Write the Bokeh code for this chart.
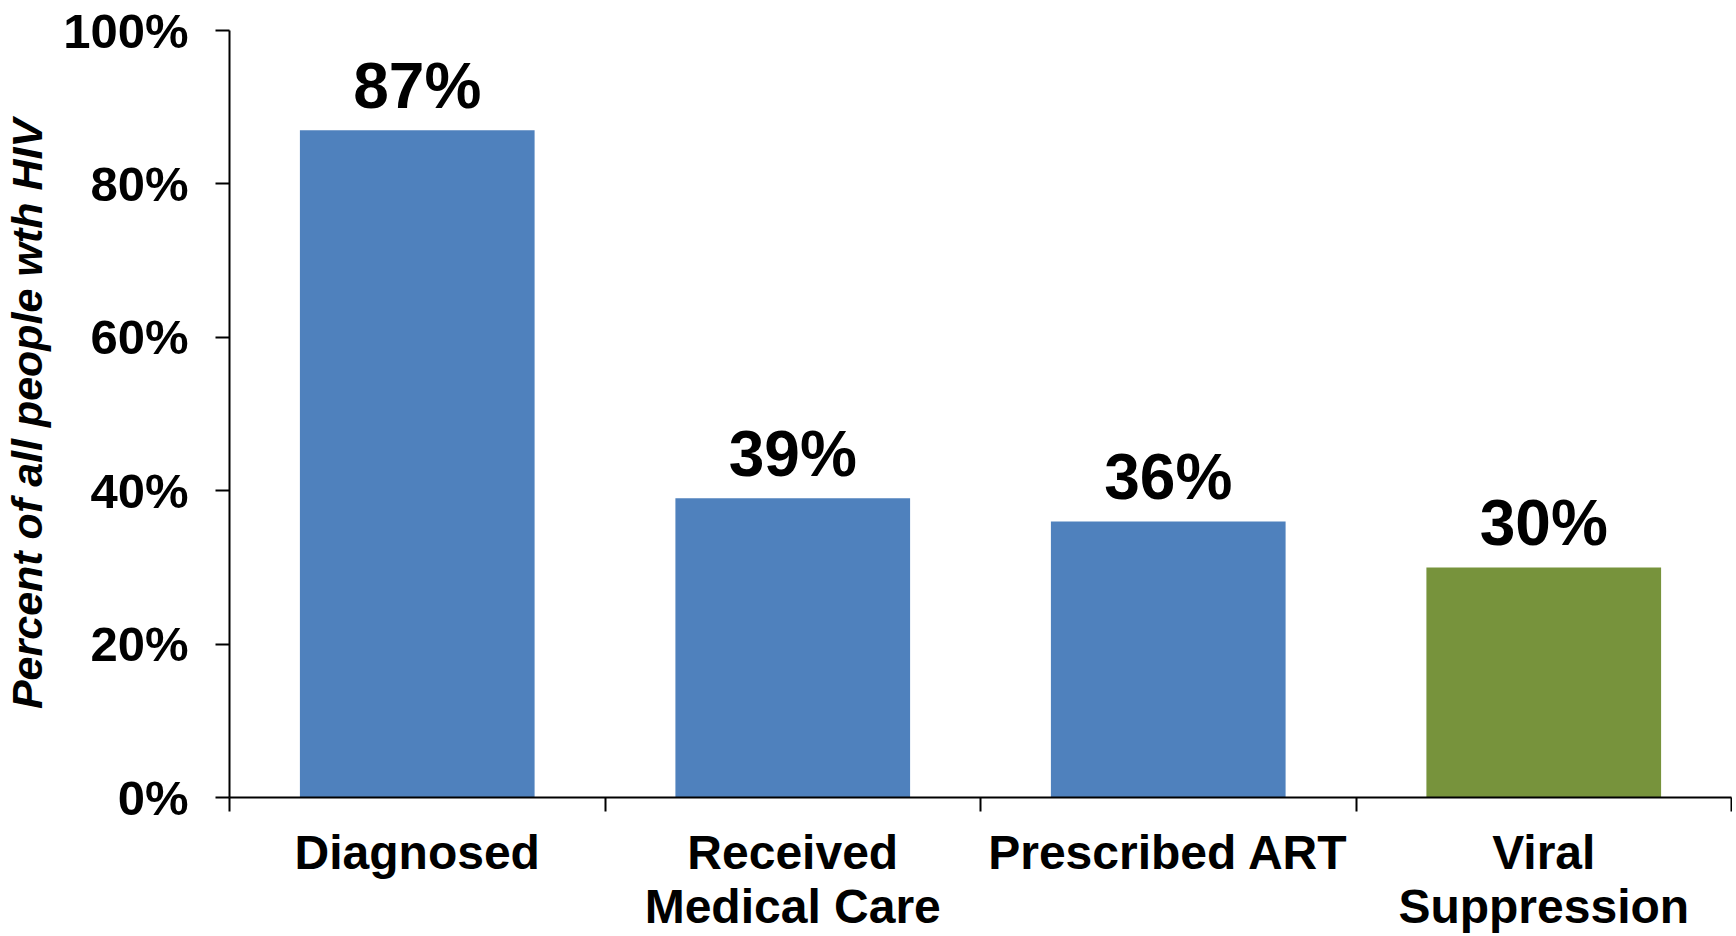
from bokeh.plotting import figure
from bokeh.models import Range1d, FixedTicker, NumeralTickFormatter, ColumnDataSource, LabelSet
from bokeh.core.properties import value
from bokeh.embed import file_html
from bokeh.resources import INLINE

# ---- data ----
categories = ["Diagnosed", "Received\nMedical Care", "Prescribed ART", "Viral\nSuppression"]
percent_values = [0.87, 0.39, 0.36, 0.30]
y_ticks = [0.0, 0.2, 0.4, 0.6, 0.8, 1.0]
y_title = "Percent of all people wth HIV"

BLUE = "#4F81BD"
GREEN = "#77933C"
FONT = "Liberation Sans"

n = len(categories)
centers = [i + 0.5 for i in range(n)]
bar_colors = [GREEN if c.startswith("Viral") else BLUE for c in categories]
bar_labels = [f"{round(v * 100)}%" for v in percent_values]

src = ColumnDataSource(dict(x=centers, top=percent_values, color=bar_colors, label=bar_labels))

p = figure(width=1732, height=936, x_range=Range1d(0, n), y_range=Range1d(0, 1),
           output_backend="svg", toolbar_location=None,
           min_border_left=228, min_border_right=1, min_border_top=30, min_border_bottom=137)
p.outline_line_color = None
p.xgrid.grid_line_color = None
p.ygrid.grid_line_color = None
p.background_fill_color = "white"

p.vbar(x="x", top="top", bottom=0, width=0.625, fill_color="color", line_color=None, source=src)

# value labels above bars
p.add_layout(LabelSet(x="x", y="top", text="label", source=src, text_align="center",
                      text_baseline="alphabetic", y_offset=22, text_font=value(FONT),
                      text_font_size="64px", text_font_style="bold", text_color="black"))

# x axis: labels at bar centres, ticks at category boundaries
xa = p.xaxis[0]
xa.ticker = FixedTicker(ticks=centers, minor_ticks=list(range(n + 1)))
xa.major_label_overrides = {c: lab for c, lab in zip(centers, categories)}
xa.major_tick_out = 0
xa.major_tick_in = 0
xa.minor_tick_out = 14
xa.minor_tick_in = 0
xa.minor_tick_line_color = "black"
xa.minor_tick_line_width = 2
xa.axis_line_color = "black"
xa.axis_line_width = 2
xa.major_label_text_font = FONT
xa.major_label_text_font_size = "48px"
xa.major_label_text_font_style = "bold"
xa.major_label_text_color = "black"
xa.major_label_standoff = 14
xa.major_label_text_line_height = 1.03

# y axis
ya = p.yaxis[0]
ya.ticker = FixedTicker(ticks=y_ticks)
ya.formatter = NumeralTickFormatter(format="0%")
ya.major_tick_out = 14
ya.major_tick_in = 0
ya.major_tick_line_color = "black"
ya.major_tick_line_width = 2
ya.minor_tick_line_color = None
ya.axis_line_color = "black"
ya.axis_line_width = 2
ya.major_label_text_font = FONT
ya.major_label_text_font_size = "49px"
ya.major_label_text_font_style = "bold"
ya.major_label_text_color = "black"
ya.major_label_standoff = 27
ya.axis_label = y_title
ya.axis_label_text_font = FONT
ya.axis_label_text_font_size = "43px"
ya.axis_label_text_font_style = "bold italic"
ya.axis_label_text_color = "black"
ya.axis_label_standoff = 9

open("out.html", "w").write(file_html(p, INLINE))
